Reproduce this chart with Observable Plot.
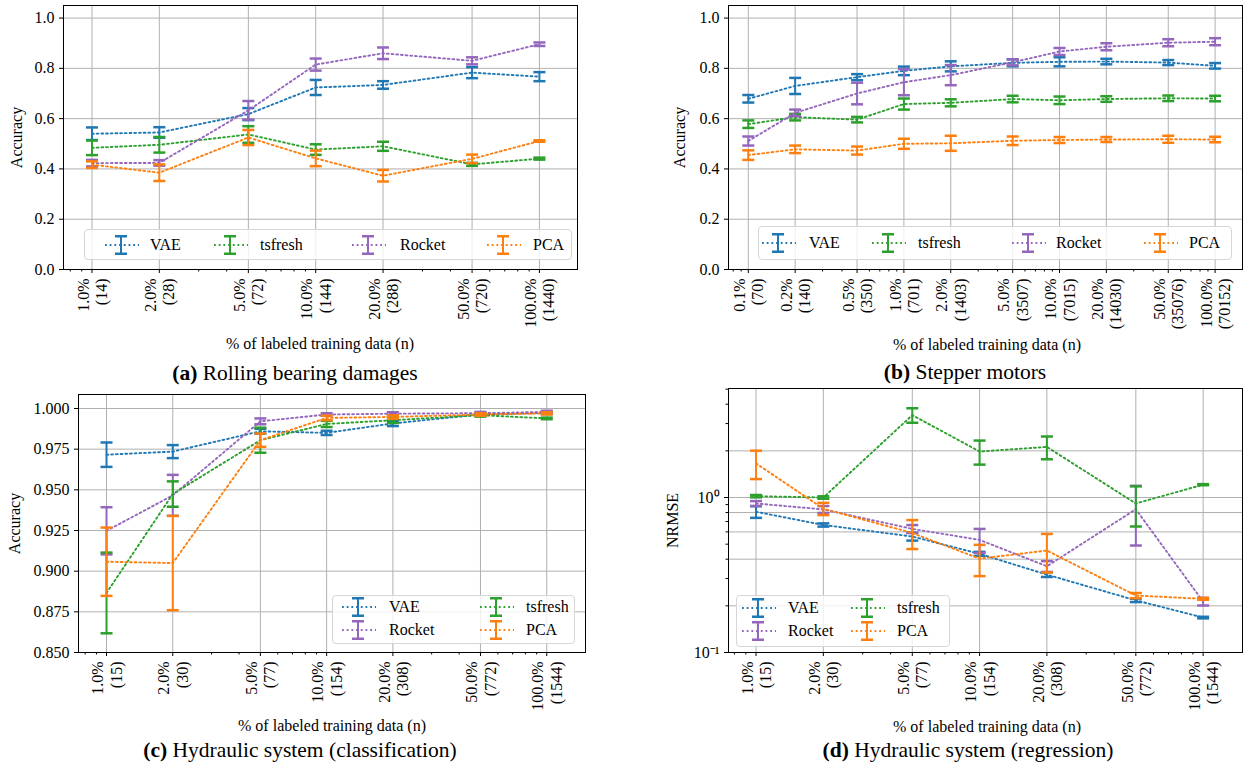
<!DOCTYPE html>
<html><head><meta charset="utf-8">
<script src="https://cdn.jsdelivr.net/npm/d3@7"></script>
<script src="https://cdn.jsdelivr.net/npm/@observablehq/plot@0.6"></script>
<style>
body{margin:0;background:#fff;font-family:"Liberation Serif","Times New Roman",serif;color:#000;}
#root{position:relative;width:1244px;height:771px;overflow:hidden;background:#fff;}
.panel{position:absolute;}
.xlabel{position:absolute;font-size:16px;white-space:nowrap;transform:translate(-50%,-50%);}
.caption{position:absolute;font-size:21.5px;white-space:nowrap;transform:translate(-50%,-50%);}
.legend{position:absolute;border:1px solid #d6d6d6;border-radius:4px;background:rgba(255,255,255,0.8);box-sizing:border-box;}
.lg{position:absolute;}
.lt{position:absolute;font-size:16px;white-space:nowrap;transform:translateY(-50%);}
</style>
</head><body><div id="root"></div>
<script>
// ---------------- DATA ----------------
const methods = ["VAE", "tsfresh", "Rocket", "PCA"];
const colors = {VAE: "#1f77b4", tsfresh: "#2ca02c", Rocket: "#9467bd", PCA: "#ff7f0e"};

// (a) Rolling bearing damages
const aPct = [1, 2, 5, 10, 20, 50, 100];
const aN = [14, 28, 72, 144, 288, 720, 1440];
const aVAE = [0.540, 0.545, 0.618, 0.724, 0.734, 0.783, 0.767];
const aVAEErr = [0.025, 0.021, 0.024, 0.030, 0.015, 0.022, 0.018];
const aTsfresh = [0.484, 0.496, 0.537, 0.477, 0.490, 0.418, 0.441];
const aTsfreshErr = [0.029, 0.031, 0.033, 0.021, 0.018, 0.006, 0.004];
const aRocket = [0.423, 0.424, 0.633, 0.815, 0.860, 0.830, 0.896];
const aRocketErr = [0.013, 0.011, 0.037, 0.024, 0.023, 0.014, 0.007];
const aPCA = [0.417, 0.385, 0.525, 0.442, 0.373, 0.440, 0.511];
const aPCAErr = [0.013, 0.033, 0.030, 0.031, 0.023, 0.017, 0.003];

// (b) Stepper motors
const bPct = [0.1, 0.2, 0.5, 1, 2, 5, 10, 20, 50, 100];
const bN = [70, 140, 350, 701, 1403, 3507, 7015, 14030, 35076, 70152];
const bVAE = [0.679, 0.730, 0.765, 0.790, 0.808, 0.822, 0.826, 0.827, 0.823, 0.810];
const bVAEErr = [0.015, 0.032, 0.012, 0.017, 0.020, 0.014, 0.018, 0.011, 0.010, 0.011];
const bTsfresh = [0.578, 0.606, 0.596, 0.658, 0.663, 0.678, 0.673, 0.678, 0.681, 0.680];
const bTsfreshErr = [0.015, 0.013, 0.011, 0.022, 0.014, 0.013, 0.015, 0.011, 0.011, 0.011];
const bRocket = [0.511, 0.623, 0.700, 0.745, 0.773, 0.824, 0.867, 0.886, 0.902, 0.906];
const bRocketErr = [0.018, 0.013, 0.043, 0.052, 0.040, 0.012, 0.014, 0.014, 0.014, 0.014];
const bPCA = [0.455, 0.478, 0.473, 0.500, 0.502, 0.512, 0.515, 0.517, 0.518, 0.517];
const bPCAErr = [0.019, 0.015, 0.016, 0.020, 0.030, 0.017, 0.012, 0.010, 0.014, 0.011];

// (c) Hydraulic system (classification)
const cPct = [1, 2, 5, 10, 20, 50, 100];
const cN = [15, 30, 77, 154, 308, 772, 1544];
const cVAE = [0.9716, 0.9735, 0.9860, 0.9850, 0.9908, 0.9964, 0.9973];
const cVAEErr = [0.0075, 0.0040, 0.0015, 0.0013, 0.0016, 0.0009, 0.0007];
const cTsfresh = [0.8866, 0.9474, 0.9805, 0.9905, 0.9928, 0.9959, 0.9939];
const cTsfreshErr = [0.0248, 0.0078, 0.0077, 0.0019, 0.0017, 0.0009, 0.0005];
const cRocket = [0.9248, 0.9466, 0.9921, 0.9963, 0.9968, 0.9971, 0.9979];
const cRocketErr = [0.0145, 0.0126, 0.0018, 0.0008, 0.0009, 0.0008, 0.0007];
const cPCA = [0.9058, 0.9050, 0.9805, 0.9942, 0.9948, 0.9963, 0.9970];
const cPCAErr = [0.0210, 0.0290, 0.0041, 0.0014, 0.0010, 0.0008, 0.0007];

// (d) Hydraulic system (regression), NRMSE
const dPct = [1, 2, 5, 10, 20, 50, 100];
const dN = [15, 30, 77, 154, 308, 772, 1544];
const dVAE = [0.809, 0.665, 0.560, 0.433, 0.318, 0.217, 0.168];
const dVAEErr = [0.070, 0.016, 0.033, 0.013, 0.011, 0.0055, 0.002];
const dTsfresh = [1.02, 1.00, 3.40, 1.98, 2.12, 0.915, 1.21];
const dTsfreshErr = [0.018, 0.018, 0.365, 0.350, 0.355, 0.265, 0.010];
const dRocket = [0.915, 0.838, 0.627, 0.533, 0.360, 0.840, 0.213];
const dRocketErr = [0.033, 0.043, 0.037, 0.094, 0.029, 0.350, 0.012];
const dPCA = [1.66, 0.847, 0.590, 0.403, 0.455, 0.233, 0.222];
const dPCAErr = [0.345, 0.077, 0.125, 0.092, 0.127, 0.009, 0.003];

// axis ticks
const accTicks = [0, 0.2, 0.4, 0.6, 0.8, 1.0];
const cTicks = [0.85, 0.875, 0.9, 0.925, 0.95, 0.975, 1.0];
const dTicks = [0.1, 1];
const dGridY = [0.2, 0.4, 0.6, 0.8, 1, 2];

// ---------------- DRAWING ----------------
const root = document.getElementById("root");
const capSym = {draw(ctx, size) { const r = Math.sqrt(size / Math.PI); ctx.moveTo(-r, 0); ctx.lineTo(r, 0); }};
const DASH = "1.8,2.9";

function rowsOf(pct, mean, err) {
  return pct.map((x, i) => ({x, y: mean[i], lo: mean[i] - err[i], hi: mean[i] + err[i]}));
}
function seriesMarks(rows, color) {
  return [
    Plot.line(rows, {x: "x", y: "y", stroke: color, strokeWidth: 1.9, strokeDasharray: DASH}),
    Plot.ruleX(rows, {x: "x", y1: "lo", y2: "hi", stroke: color, strokeWidth: 2}),
    Plot.dot(rows, {x: "x", y: "lo", symbol: capSym, r: 6, stroke: color, strokeWidth: 2.5, fill: "none"}),
    Plot.dot(rows, {x: "x", y: "hi", symbol: capSym, r: 6, stroke: color, strokeWidth: 2.5, fill: "none"})
  ];
}
function minorTicks(domain, majors) {
  return d3.scaleLog().domain(domain).ticks()
    .filter(t => t >= domain[0] && t <= domain[1] && !majors.some(m => Math.abs(m - t) < 1e-6 * m));
}

function makePanel(cfg) {
  const nMap = new Map(cfg.pct.map((p, i) => [p, cfg.n[i]]));
  const marks = [
    Plot.gridX(cfg.pct, {stroke: "#b0b0b0", strokeOpacity: 1, strokeWidth: 1}),
    Plot.gridY(cfg.gridY, {stroke: "#b0b0b0", strokeOpacity: 1, strokeWidth: 1})
  ];
  cfg.series.forEach(s => marks.push(...seriesMarks(rowsOf(cfg.pct, s.mean, s.err), colors[s.name])));
  marks.push(
    Plot.axisX(minorTicks(cfg.xDomain, cfg.pct), {tickSize: 2.5, tickFormat: () => "", label: null}),
    Plot.axisX(cfg.pct, {tickSize: 4, tickFormat: () => "", label: null}),
    Plot.text(cfg.pct, {x: d => d, frameAnchor: "bottom", text: d => `${d.toFixed(1)}%\n(${nMap.get(d)})`,
      rotate: -90, textAnchor: "end", lineAnchor: "middle", lineHeight: 1.15, dy: 9, fill: "black"}),
    Plot.axisY(cfg.yTicks, {tickSize: 4, tickPadding: 5, tickFormat: cfg.yFormat,
      label: cfg.ylabel, labelAnchor: "center", labelOffset: cfg.labelOffset, labelArrow: "none"})
  );
  if (cfg.yMinor) marks.push(Plot.axisY(minorTicks(cfg.yDomain, cfg.yTicks), {tickSize: 2.5, tickFormat: () => "", label: null}));
  marks.push(Plot.frame({stroke: "black", strokeWidth: 1}));
  const svg = Plot.plot({
    width: cfg.width, height: cfg.height,
    marginTop: cfg.m[0], marginRight: cfg.m[1], marginBottom: cfg.m[2], marginLeft: cfg.m[3],
    style: {fontFamily: "'Liberation Serif', 'Times New Roman', serif", fontSize: "16px", color: "black", background: "transparent", overflow: "visible"},
    x: {type: "log", domain: cfg.xDomain},
    y: {type: cfg.yType, domain: cfg.yDomain},
    marks
  });
  svg.classList.add("panel");
  svg.style.left = cfg.left + "px";
  svg.style.top = cfg.top + "px";
  root.appendChild(svg);

  const xl = document.createElement("div");
  xl.className = "xlabel"; xl.textContent = "% of labeled training data (n)";
  xl.style.left = cfg.xlabelPos[0] + "px"; xl.style.top = cfg.xlabelPos[1] + "px";
  root.appendChild(xl);
  const cap = document.createElement("div");
  cap.className = "caption";
  cap.innerHTML = `<b>(${cfg.tag})</b> ${cfg.caption}`;
  cap.style.left = cfg.captionPos[0] + "px"; cap.style.top = cfg.captionPos[1] + "px";
  root.appendChild(cap);

  // legend
  const L = cfg.legend;
  const box = document.createElement("div");
  box.className = "legend";
  Object.assign(box.style, {left: L.box[0] + "px", top: L.box[1] + "px", width: L.box[2] + "px", height: L.box[3] + "px"});
  root.appendChild(box);
  L.items.forEach(it => {
    const c = colors[it.name];
    const g = document.createElementNS("http://www.w3.org/2000/svg", "svg");
    g.setAttribute("width", 34); g.setAttribute("height", 20);
    g.setAttribute("class", "lg");
    g.style.left = it.gx + "px"; g.style.top = (it.cy - 10) + "px";
    g.innerHTML = `<line x1="0" x2="34" y1="10" y2="10" stroke="${c}" stroke-width="1.9" stroke-dasharray="${DASH}"/>
      <line x1="16" x2="16" y1="1" y2="19" stroke="${c}" stroke-width="2"/>
      <line x1="10" x2="22" y1="1.25" y2="1.25" stroke="${c}" stroke-width="2.5"/>
      <line x1="10" x2="22" y1="18.75" y2="18.75" stroke="${c}" stroke-width="2.5"/>`;
    root.appendChild(g);
    const t = document.createElement("div");
    t.className = "lt"; t.textContent = it.name;
    t.style.left = it.lx + "px"; t.style.top = it.cy + "px";
    root.appendChild(t);
  });
}

const ser = (names, means, errs) => names.map((name, i) => ({name, mean: means[i], err: errs[i]}));

makePanel({
  tag: "a", caption: "Rolling bearing damages",
  pct: aPct, n: aN, xDomain: [0.746, 148],
  yType: "linear", yDomain: [0, 1.05], yTicks: accTicks, gridY: accTicks, yFormat: d3.format(".1f"),
  ylabel: "Accuracy", labelOffset: 53,
  series: ser(methods, [aVAE, aTsfresh, aRocket, aPCA], [aVAEErr, aTsfreshErr, aRocketErr, aPCAErr]),
  left: 0, top: 0, width: 600, height: 345, m: [5, 23, 76, 63],
  xlabelPos: [320, 344], captionPos: [295, 373],
  legend: {box: [84, 229, 488, 31], items: [
    {name: "VAE", gx: 105, cy: 245, lx: 150},
    {name: "tsfresh", gx: 214, cy: 245, lx: 260},
    {name: "Rocket", gx: 352, cy: 245, lx: 400},
    {name: "PCA", gx: 487, cy: 245, lx: 533}]}
});

makePanel({
  tag: "b", caption: "Stepper motors",
  pct: bPct, n: bN, xDomain: [0.0746, 150],
  yType: "linear", yDomain: [0, 1.05], yTicks: accTicks, gridY: accTicks, yFormat: d3.format(".1f"),
  ylabel: "Accuracy", labelOffset: 55,
  series: ser(methods, [bVAE, bTsfresh, bRocket, bPCA], [bVAEErr, bTsfreshErr, bRocketErr, bPCAErr]),
  left: 620, top: 0, width: 624, height: 345, m: [5, 2, 76, 108],
  xlabelPos: [987, 345], captionPos: [965, 372],
  legend: {box: [758, 226, 474, 34], items: [
    {name: "VAE", gx: 762, cy: 243, lx: 809},
    {name: "tsfresh", gx: 872, cy: 243, lx: 918},
    {name: "Rocket", gx: 1012, cy: 243, lx: 1056},
    {name: "PCA", gx: 1144, cy: 243, lx: 1189}]}
});

makePanel({
  tag: "c", caption: "Hydraulic system (classification)",
  pct: cPct, n: cN, xDomain: [0.746, 150],
  yType: "linear", yDomain: [0.85, 1.0086], yTicks: cTicks, gridY: cTicks, yFormat: d3.format(".3f"),
  ylabel: "Accuracy", labelOffset: 70,
  series: ser(["VAE", "Rocket", "tsfresh", "PCA"], [cVAE, cRocket, cTsfresh, cPCA], [cVAEErr, cRocketErr, cTsfreshErr, cPCAErr]),
  left: 0, top: 380, width: 600, height: 345, m: [14, 15, 73, 78],
  xlabelPos: [332, 726], captionPos: [300, 750],
  legend: {box: [332, 595, 243, 49], items: [
    {name: "VAE", gx: 342, cy: 607, lx: 389},
    {name: "tsfresh", gx: 480, cy: 607, lx: 526},
    {name: "Rocket", gx: 342, cy: 630, lx: 389},
    {name: "PCA", gx: 480, cy: 630, lx: 526}]}
});

makePanel({
  tag: "d", caption: "Hydraulic system (regression)",
  pct: dPct, n: dN, xDomain: [0.753, 150],
  yType: "log", yDomain: [0.1, 5.05], yTicks: dTicks, gridY: dGridY, yMinor: true,
  yFormat: d => d < 0.5 ? "10⁻¹" : "10⁰",
  ylabel: "NRMSE", labelOffset: 62,
  series: ser(["VAE", "Rocket", "tsfresh", "PCA"], [dVAE, dRocket, dTsfresh, dPCA], [dVAEErr, dRocketErr, dTsfreshErr, dPCAErr]),
  left: 620, top: 380, width: 624, height: 345, m: [8, 2, 73, 108],
  xlabelPos: [987, 727], captionPos: [968, 750],
  legend: {box: [736, 595, 214, 52], items: [
    {name: "VAE", gx: 742, cy: 608, lx: 788},
    {name: "tsfresh", gx: 851, cy: 608, lx: 897},
    {name: "Rocket", gx: 742, cy: 631, lx: 788},
    {name: "PCA", gx: 851, cy: 631, lx: 897}]}
});
</script></body></html>
